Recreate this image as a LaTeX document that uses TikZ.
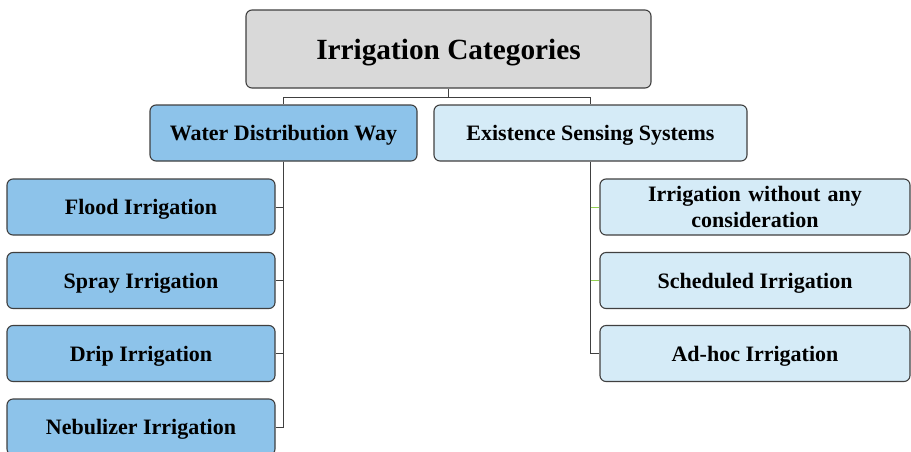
\documentclass[tikz,border=0pt]{standalone}
\usepackage{fontspec}
\setmainfont{Liberation Serif}
\usepackage{tikz}
\usetikzlibrary{positioning,calc}
\definecolor{rootGray}{RGB}{217,217,217}
\definecolor{waterBlue}{RGB}{141,195,234}
\definecolor{senseBlue}{RGB}{213,235,247}
\definecolor{lineGray}{RGB}{64,64,64}
\definecolor{stubGreen}{RGB}{146,208,80}

\begin{document}
\begin{tikzpicture}[x=1pt,y=-1pt,
    catbox/.style={rounded corners=6pt,draw=lineGray,line width=1.1pt,
                   font=\fontsize{22}{26}\selectfont\bfseries,inner sep=2pt,
                   align=center,minimum height=56pt,text depth=0pt},
    waterbox/.style={catbox,fill=waterBlue},
    sensebox/.style={catbox,fill=senseBlue},
    conn/.style={draw=lineGray,line width=1pt}]
    \useasboundingbox (0,0) rectangle (911,451);
    \clip (0,0) rectangle (911,451);
    % top level
    \node[catbox,fill=rootGray,minimum width=405pt,minimum height=78pt,
          font=\fontsize{29.3}{34}\selectfont\bfseries] (root) at (448.5,49) {Irrigation Categories};
    \node[waterbox,minimum width=267pt] (water) at (283.5,133) {Water Distribution Way};
    \node[sensebox,minimum width=313pt] (sense) at (590.5,133) {Existence Sensing Systems};
    % water distribution branch
    \node[waterbox,minimum width=268pt] (flood) at (141,207) {Flood Irrigation};
    \node[waterbox,minimum width=268pt] (spray) at (141,280.5) {Spray Irrigation};
    \node[waterbox,minimum width=268pt] (drip) at (141,353.5) {Drip Irrigation};
    \node[waterbox,minimum width=268pt] (nebul) at (141,427) {Nebulizer Irrigation};
    % sensing branch
    \node[sensebox,minimum width=310pt,text width=300pt,text depth={}] (noneirr) at (755,207) {Irrigation without any\\consideration};
    \node[sensebox,minimum width=310pt] (sched) at (755,280.5) {Scheduled Irrigation};
    \node[sensebox,minimum width=310pt] (adhoc) at (755,353.5) {Ad-hoc Irrigation};
    % connectors
    \coordinate (split) at (448.5,97);
    \draw[conn] (root.south) -- (split) -| (water.north);
    \draw[conn] (split) -| (sense.north);
    \draw[conn] (water.south) |- (nebul.east);
    \draw[conn] (water.south) |- (flood.east);
    \draw[conn] (water.south) |- (spray.east);
    \draw[conn] (water.south) |- (drip.east);
    \draw[conn] (sense.south) |- (adhoc.west);
    \draw[stubGreen,line width=1pt] (sense.south |- noneirr.west) -- (noneirr.west);
    \draw[stubGreen,line width=1pt] (sense.south |- sched.west) -- (sched.west);
\end{tikzpicture}
\end{document}
